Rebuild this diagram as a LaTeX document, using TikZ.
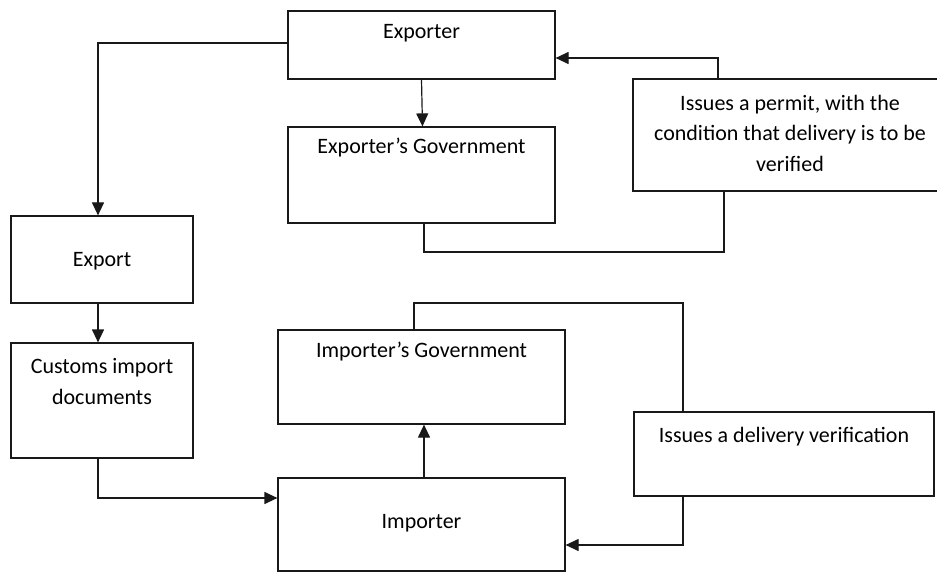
\documentclass[tikz,border=0pt]{standalone}
\usepackage{fontspec}
\setmainfont{Carlito}
\usetikzlibrary{arrows.meta,calc}
\begin{document}
\begin{tikzpicture}[x=1pt,y=-1pt,
  box/.style={draw=black!90, line width=1.2pt, rectangle, inner sep=0pt},
  txt/.style={inner sep=0pt, align=center, font=\fontsize{22}{30.5}\selectfont},
  conn/.style={draw=black!90, line width=1.2pt},
  arr/.style={conn, -{Triangle[length=13pt,width=12pt]}}]
\useasboundingbox (0,0) rectangle (937,572);
% boxes
\node[box, minimum width=267pt, minimum height=68pt] (exp) at (421.5,45) {};
\node[txt] (expT) at (421.5,33) {Exporter};
\node[box, minimum width=267pt, minimum height=96pt] (expgov) at (421.5,175) {};
\node[txt] (expgovT) at (421.5,148) {Exporter’s Government};
\node[box, minimum width=310pt, minimum height=112pt] (permit) at (788,135) {};
\node[txt] (permitT) at (790,133) {Issues a permit, with the\\condition that delivery is to be\\verified};
\node[box, minimum width=182pt, minimum height=87pt] (export) at (102,259.5) {};
\node[txt] (exportT) at (102,261) {Export};
\node[box, minimum width=182pt, minimum height=115pt] (customs) at (102,400.5) {};
\node[txt] (customsT) at (102,381.5) {Customs import\\documents};
\node[box, minimum width=287pt, minimum height=94pt] (impgov) at (421.5,377) {};
\node[txt] (impgovT) at (421.5,352) {Importer’s Government};
\node[box, minimum width=300pt, minimum height=84pt] (deliv) at (784,454) {};
\node[txt] (delivT) at (784,437) {Issues a delivery verification};
\node[box, minimum width=287pt, minimum height=93pt] (imp) at (421.5,524.5) {};
\node[txt] (impT) at (421.5,523) {Importer};
% connectors
\draw[arr] ($(exp.west)+(0,-2)$) -| ($(export.north)+(-4,0)$);
\draw[arr] (exp.south) -- ($(expgov.north)+(1,0)$);
\coordinate (c1) at (724,252);
\draw[conn] ($(expgov.south)+(2.5,0)$) |- (c1) -- (c1 |- permit.south);
\draw[arr] ($(permit.north)+(-70,0)$) |- ($(exp.east)+(0,13)$);
\draw[arr] ($(export.south)+(-4,0)$) -- ($(customs.north)+(-4,0)$);
\draw[arr] ($(customs.south)+(-4,0)$) |- ($(imp.west)+(0,-26.5)$);
\draw[arr] ($(imp.north)+(2.5,0)$) -- ($(impgov.south)+(2.5,0)$);
\coordinate (c2) at (683,303);
\draw[conn] ($(impgov.north)+(-7.5,0)$) |- (c2) -- (c2 |- deliv.north);
\draw[arr] ($(deliv.south)+(-101,0)$) |- ($(imp.east)+(0,20.5)$);
\end{tikzpicture}
\end{document}
